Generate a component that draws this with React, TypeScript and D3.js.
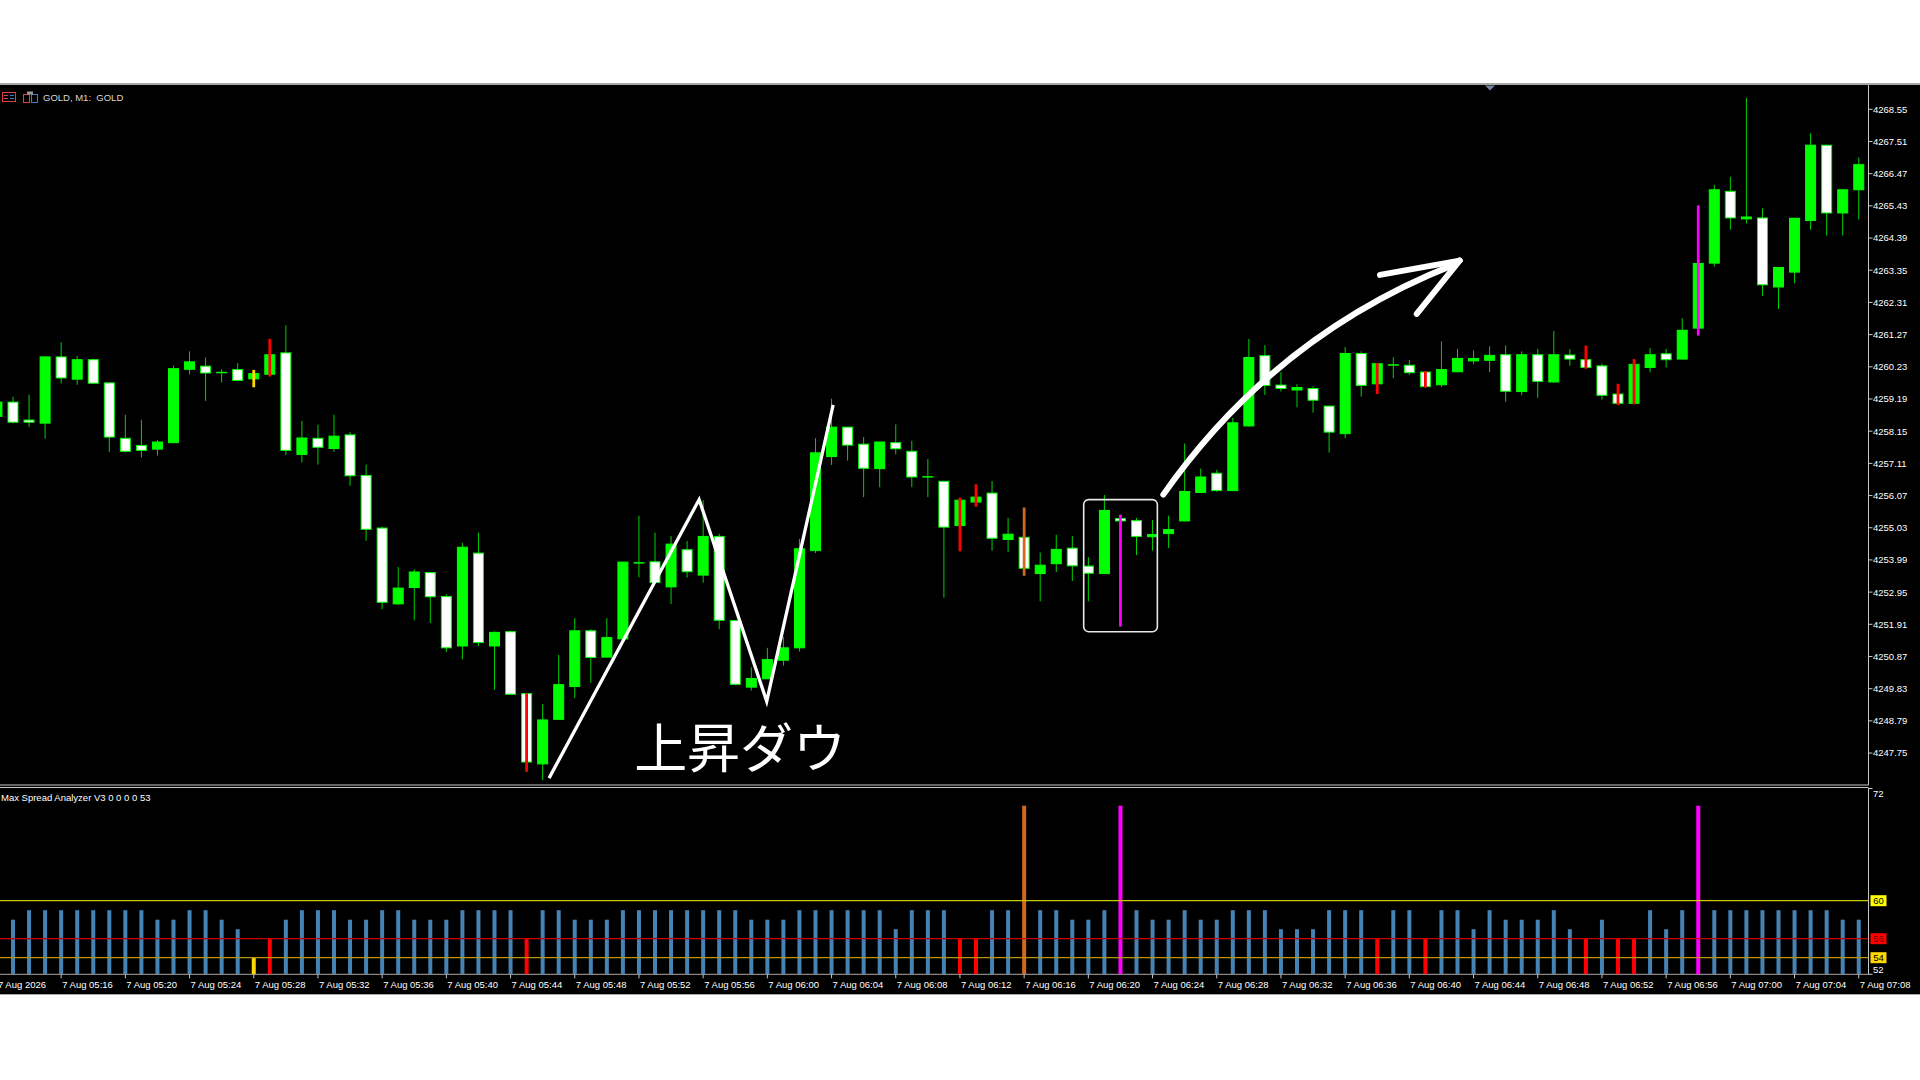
import React from "react";
import * as d3 from "d3";

// ---------- texts ----------
const SYMBOL_TITLE = "GOLD, M1:  GOLD";
const INDICATOR_TITLE = "Max Spread Analyzer V3 0 0 0 0 53";
const ANNOTATION_TEXT = "上昇ダウ";

// ---------- categories (1-minute bars) ----------
const START = new Date(2026, 7, 7, 5, 12);
const END = new Date(2026, 7, 7, 7, 8);
const TIMES: string[] = d3.timeMinute
  .range(START, d3.timeMinute.offset(END, 1))
  .map(d3.timeFormat("%H:%M"));

const X_TICK_TIMES = ["05:12","05:16","05:20","05:24","05:28","05:32","05:36","05:40","05:44","05:48","05:52","05:56","06:00","06:04","06:08","06:12","06:16","06:20","06:24","06:28","06:32","06:36","06:40","06:44","06:48","06:52","06:56","07:00","07:04","07:08"];
const X_TICK_LABELS = ["7 Aug 2026","7 Aug 05:16","7 Aug 05:20","7 Aug 05:24","7 Aug 05:28","7 Aug 05:32","7 Aug 05:36","7 Aug 05:40","7 Aug 05:44","7 Aug 05:48","7 Aug 05:52","7 Aug 05:56","7 Aug 06:00","7 Aug 06:04","7 Aug 06:08","7 Aug 06:12","7 Aug 06:16","7 Aug 06:20","7 Aug 06:24","7 Aug 06:28","7 Aug 06:32","7 Aug 06:36","7 Aug 06:40","7 Aug 06:44","7 Aug 06:48","7 Aug 06:52","7 Aug 06:56","7 Aug 07:00","7 Aug 07:04","7 Aug 07:08"];

const PRICE_TICKS = [4268.55,4267.51,4266.47,4265.43,4264.39,4263.35,4262.31,4261.27,4260.23,4259.19,4258.15,4257.11,4256.07,4255.03,4253.99,4252.95,4251.91,4250.87,4249.83,4248.79,4247.75];

// ---------- OHLC ----------
const OPEN = [4258.63,4259.09,4258.51,4258.41,4260.55,4259.83,4260.46,4259.71,4257.92,4257.69,
4257.57,4257.78,4260.15,4260.25,4260.03,4260.14,4259.84,4259.99,4260.68,4257.40,
4257.92,4257.59,4258.03,4256.72,4255.02,4252.57,4253.10,4253.58,4252.81,4251.21,
4254.21,4251.21,4251.67,4249.67,4247.40,4248.84,4249.90,4251.70,4250.85,4251.44,
4253.89,4253.93,4253.12,4254.32,4253.50,4254.75,4252.03,4249.88,4250.15,4250.75,
4251.15,4254.29,4257.33,4258.28,4257.73,4256.94,4257.78,4257.50,4256.67,4256.53,
4255.10,4255.86,4256.15,4254.65,4254.72,4253.55,4253.87,4254.37,4253.79,4253.55,
4255.33,4255.26,4254.74,4254.84,4255.25,4256.17,4256.79,4256.23,4258.32,4260.59,
4259.64,4259.48,4259.53,4258.96,4258.07,4260.66,4259.68,4260.27,4260.28,4260.06,
4259.65,4260.07,4260.42,4260.44,4260.62,4259.43,4260.62,4259.74,4260.61,4260.46,
4260.26,4259.35,4259.05,4260.21,4260.65,4260.48,4261.48,4263.58,4265.90,4265.01,
4265.04,4262.81,4263.29,4264.96,4267.39,4265.20,4265.95];
const HIGH = [4259.25,4259.26,4259.33,4260.57,4261.02,4260.58,4260.50,4259.72,4258.68,4258.52,
4257.87,4260.27,4260.73,4260.53,4260.15,4260.35,4260.13,4261.13,4261.57,4258.48,
4258.36,4258.68,4258.12,4257.07,4255.07,4253.76,4253.69,4253.60,4252.88,4254.54,
4254.87,4251.68,4251.70,4249.68,4249.33,4250.92,4252.11,4251.75,4252.11,4253.93,
4255.42,4254.87,4254.76,4254.60,4255.92,4254.84,4252.03,4250.52,4251.15,4251.50,
4254.67,4257.92,4259.20,4258.29,4257.96,4257.80,4258.37,4257.84,4257.25,4256.53,
4256.00,4256.43,4256.54,4255.35,4255.68,4254.23,4254.80,4254.76,4254.08,4256.09,
4255.45,4255.35,4255.28,4255.42,4257.75,4256.94,4256.90,4258.58,4261.13,4260.93,
4260.06,4259.67,4259.60,4258.97,4260.87,4260.73,4260.35,4260.54,4260.45,4260.09,
4261.05,4260.81,4260.76,4260.89,4260.92,4260.73,4260.81,4261.39,4260.80,4260.91,
4260.33,4259.68,4260.48,4260.83,4260.81,4261.80,4265.44,4266.11,4266.37,4268.92,
4265.35,4263.45,4265.04,4267.78,4267.40,4265.96,4266.99];
const LOW = [4258.50,4258.40,4258.29,4257.91,4259.69,4259.65,4259.68,4257.48,4257.47,4257.30,
4257.36,4257.76,4259.98,4259.13,4259.72,4259.76,4259.57,4259.92,4257.38,4257.14,
4257.07,4257.48,4256.39,4254.61,4252.40,4252.55,4252.04,4251.95,4251.01,4250.78,
4251.21,4249.80,4249.63,4247.15,4246.88,4248.82,4249.53,4250.02,4250.84,4251.42,
4253.43,4253.25,4252.57,4253.42,4253.25,4251.75,4249.94,4249.77,4250.14,4250.57,
4251.03,4254.21,4257.06,4257.20,4256.02,4256.34,4257.40,4256.34,4256.02,4252.77,
4254.27,4255.71,4254.29,4254.24,4253.48,4252.65,4253.60,4253.31,4252.65,4253.54,
4251.84,4254.15,4254.29,4254.38,4255.24,4256.16,4256.19,4256.22,4258.30,4259.32,
4259.43,4258.92,4258.75,4257.46,4257.92,4259.27,4259.35,4259.86,4259.97,4259.56,
4259.58,4260.05,4260.31,4260.06,4259.10,4259.31,4259.22,4259.71,4260.26,4260.17,
4259.17,4258.99,4259.02,4260.05,4260.21,4260.47,4261.24,4263.47,4264.66,4264.86,
4262.52,4262.10,4262.93,4264.66,4264.47,4264.47,4264.99];
const CLOSE = [4259.09,4258.44,4258.44,4260.55,4259.87,4260.46,4259.70,4257.96,4257.50,4257.53,
4257.80,4260.17,4260.39,4260.03,4260.06,4259.79,4260.01,4260.62,4257.53,4257.93,
4257.63,4257.99,4256.71,4254.98,4252.62,4253.08,4253.60,4252.80,4251.15,4254.40,
4251.32,4251.65,4249.65,4247.46,4248.82,4249.96,4251.70,4250.84,4251.48,4253.92,
4253.90,4253.26,4254.50,4253.61,4254.75,4252.04,4249.97,4250.16,4250.77,4251.15,
4254.35,4257.45,4258.28,4257.70,4256.95,4257.80,4257.58,4256.67,4256.68,4255.05,
4255.92,4256.02,4254.69,4254.82,4253.72,4253.82,4254.33,4253.80,4253.56,4255.59,
4255.25,4254.75,4254.81,4254.97,4256.20,4256.67,4256.23,4258.42,4260.53,4259.63,
4259.53,4259.56,4259.15,4258.12,4260.66,4259.63,4260.33,4260.31,4260.04,4259.59,
4260.14,4260.50,4260.50,4260.60,4259.44,4260.62,4259.76,4260.62,4260.48,4260.21,
4259.31,4259.05,4260.31,4260.62,4260.46,4261.41,4263.57,4265.95,4265.04,4265.07,
4262.88,4263.44,4265.03,4267.39,4265.20,4265.95,4266.76];

// ---------- spread indicator ----------
const SPREAD = [58,58,59,59,59,59,59,59,59,59,
58,58,59,59,58,57,54,56,58,59,
59,59,58,58,59,59,58,58,58,59,
59,59,59,56,59,59,58,58,58,59,
59,59,59,59,59,59,59,58,58,58,
59,59,59,59,59,59,57,59,59,59,
56,56,59,59,70,59,59,58,58,59,
70,59,58,58,59,58,58,59,59,59,
57,57,57,59,59,59,56,59,59,56,
59,59,57,59,58,58,58,59,57,56,
58,56,56,59,57,59,70,59,59,59,
59,59,59,59,59,58,58];
const ORANGE_SPIKE_TIMES = ["06:16"];
const SPREAD_LEVELS = [60, 56, 54];
const SPREAD_AXIS_LABELS = [72, 52];

// ---------- hand-drawn annotations (bar index, price) ----------
const ZIGZAG_IDX = [34.4, 43.75, 47.96, 52.1];
const ZIGZAG_PRICE = [4246.94, 4255.94, 4249.42, 4259.0];
const BOX_IDX = [67.71, 72.3];
const BOX_PRICE = [4255.94, 4251.67];
// quadratic arc: start, control, end
const ARROW_IDX = [72.67, 79.63, 90.83];
const ARROW_PRICE = [4256.1, 4261.26, 4263.54];
const ARROW_TIP = [91.13, 4263.66];
const ARROW_BARB_IDX = [86.17, 88.46];
const ARROW_BARB_PRICE = [4263.2, 4261.94];
const TEXT_IDX = 39.7;
const TEXT_PRICE = 4247.27;

// ---------- styles ----------
const FONT = "'Liberation Sans', Arial, sans-serif";
const BULL = "#00ff00";
const WICK = "#00d200";
const BLUE = "#4682b4";
const LEVEL_COLORS: Record<number, string> = { 60: "#c8c800", 56: "#c80000", 54: "#b8960b" };
const LEVEL_BOX: Record<number, string> = { 60: "#ffff00", 56: "#ff0000", 54: "#ffd700" };
const LEVEL_TEXT: Record<number, string> = { 60: "#000000", 56: "#7a0000", 54: "#000000" };

function spreadColor(v: number, t: string): string {
  if (v >= 60) return ORANGE_SPIKE_TIMES.includes(t) ? "#d2691e" : "#ff00ff";
  if (v <= 54) return "#ffd700";
  if (v <= 56) return "#ff0000";
  return BLUE;
}

export default function App() {
  const W = 1920;
  const H = 1080;
  const axisX = 1868.5;
  const mainTop = 85;
  const mainBottom = 784;
  const paneTop = 788;
  const paneBottom = 974.3;

  const x = d3.scaleLinear().domain([0, TIMES.length - 1]).range([-3.05, 1858.75]);
  const y = d3.scaleLinear().domain([4268.55, 4247.75]).range([109.3, 753.06]);
  const ys = d3.scaleLinear().domain([52, 72]).range([976.7, 786.7]);
  const idxOf = (t: string) => TIMES.indexOf(t);

  const candles = TIMES.map((t, i) => {
    const o = OPEN[i], h = HIGH[i], l = LOW[i], c = CLOSE[i];
    return { t, i, o, h, l, c, bull: c >= o, sc: spreadColor(SPREAD[i], t) };
  });

  const zig = d3.line<number>()
    .x((d, k) => x(ZIGZAG_IDX[k]))
    .y((d, k) => y(ZIGZAG_PRICE[k]))(ZIGZAG_IDX);

  const ap = d3.path();
  ap.moveTo(x(ARROW_IDX[0]), y(ARROW_PRICE[0]));
  ap.quadraticCurveTo(x(ARROW_IDX[1]), y(ARROW_PRICE[1]), x(ARROW_IDX[2]), y(ARROW_PRICE[2]));
  ap.lineTo(x(ARROW_TIP[0]), y(ARROW_TIP[1]));
  const tipX = x(ARROW_TIP[0]);
  const tipY = y(ARROW_TIP[1]);

  const labelStyle = { fontFamily: FONT, fontSize: 9.5, fill: "#ffffff" } as const;

  return (
    <svg
      width={W}
      height={H}
      style={{ position: "fixed", left: 0, top: 0, display: "block" }}
      xmlns="http://www.w3.org/2000/svg"
    >
      <defs>
        <clipPath id="mainClip">
          <rect x={0} y={mainTop} width={axisX} height={mainBottom - mainTop} />
        </clipPath>
        <clipPath id="paneClip">
          <rect x={0} y={paneTop} width={axisX} height={paneBottom - paneTop} />
        </clipPath>
      </defs>
      <rect x={0} y={0} width={W} height={H} fill="#ffffff" />
      <rect x={0} y={83} width={W} height={912} fill="#000000" />
      <rect x={0} y={83} width={W} height={2} fill="#a8a8a8" />
      <line x1={0} x2={W} y1={994.5} y2={994.5} stroke="#a8a8a8" strokeWidth={1} />

      {/* header */}
      <g>
        <rect x={2.5} y={92.5} width={13} height={9} fill="none" stroke="#e04040" />
        <line x1={4} x2={8} y1={95.5} y2={95.5} stroke="#e04040" />
        <line x1={4} x2={8} y1={98.5} y2={98.5} stroke="#e04040" />
        <line x1={10} x2={14} y1={95.5} y2={95.5} stroke="#3a78e0" />
        <line x1={10} x2={14} y1={98.5} y2={98.5} stroke="#3a78e0" />
        <rect x={23.5} y={94.5} width={6} height={8} fill="none" stroke="#e04040" />
        <rect x={31.5} y={94.5} width={6} height={8} fill="none" stroke="#3a78e0" />
        <rect x={27} y={91.5} width={6} height={3} fill="#9a9a9a" />
        <text x={43} y={100.5} style={{ ...labelStyle, fill: "#d8d8d8", whiteSpace: "pre" }}>
          {SYMBOL_TITLE}
        </text>
      </g>
      <path d="M1485,85.5 L1495,85.5 L1490,90.5 Z" fill="#7284a0" />

      {/* main candles */}
      <g clipPath="url(#mainClip)">
        {candles.map((d) => (
          <line key={"w" + d.i} x1={x(d.i)} x2={x(d.i)} y1={y(d.h)} y2={y(d.l)} stroke={WICK} strokeWidth={1} />
        ))}
        {candles.map((d) => {
          const top = y(Math.max(d.o, d.c));
          const bot = y(Math.min(d.o, d.c));
          const hgt = bot - top;
          if (hgt < 1.5) {
            return (
              <line key={"b" + d.i} x1={x(d.i) - 5.5} x2={x(d.i) + 5.5} y1={(top + bot) / 2} y2={(top + bot) / 2}
                stroke={BULL} strokeWidth={1.5} />
            );
          }
          return (
            <rect key={"b" + d.i} x={x(d.i) - 5} y={top} width={10} height={hgt}
              fill={d.bull ? BULL : "#ffffff"} stroke={BULL} strokeWidth={1} />
          );
        })}
        {candles.filter((d) => d.sc !== BLUE).map((d) => (
          <line key={"s" + d.i} x1={x(d.i)} x2={x(d.i)} y1={y(d.h)} y2={y(d.l)} stroke={d.sc} strokeWidth={2.8} />
        ))}

        {/* annotations */}
        <path d={zig || ""} fill="none" stroke="#ffffff" strokeWidth={3.3} strokeLinejoin="miter" />
        <rect x={x(BOX_IDX[0])} y={y(BOX_PRICE[0])} width={x(BOX_IDX[1]) - x(BOX_IDX[0])}
          height={y(BOX_PRICE[1]) - y(BOX_PRICE[0])} rx={5} fill="none" stroke="#e8e8e8" strokeWidth={1.6} />
        <path d={ap.toString()} fill="none" stroke="#ffffff" strokeWidth={6} strokeLinecap="round" strokeLinejoin="round" />
        {ARROW_BARB_IDX.map((bi, k) => (
          <line key={"barb" + k} x1={x(bi)} y1={y(ARROW_BARB_PRICE[k])} x2={tipX} y2={tipY}
            stroke="#ffffff" strokeWidth={6} strokeLinecap="round" />
        ))}
        <text x={x(TEXT_IDX)} y={y(TEXT_PRICE)} fill="#ffffff"
          style={{ fontFamily: "'Noto Sans CJK JP', 'Noto Sans CJK SC', sans-serif", fontSize: 53, fontWeight: 400 }}>
          {ANNOTATION_TEXT}
        </text>
      </g>

      {/* separator + axes */}
      <line x1={0} x2={axisX} y1={785} y2={785} stroke="#c8c8c8" strokeWidth={1} />
      <line x1={0} x2={axisX} y1={787.5} y2={787.5} stroke="#c8c8c8" strokeWidth={1} />
      <line x1={axisX} x2={axisX} y1={mainTop} y2={mainBottom + 1} stroke="#c8c8c8" strokeWidth={1} />
      <line x1={axisX} x2={axisX} y1={paneTop} y2={paneBottom} stroke="#c8c8c8" strokeWidth={1} />
      <line x1={0} x2={axisX} y1={paneBottom} y2={paneBottom} stroke="#a8a8a8" strokeWidth={1} />

      {PRICE_TICKS.map((p) => (
        <g key={"pt" + p}>
          <line x1={axisX} x2={axisX + 4} y1={y(p)} y2={y(p)} stroke="#c8c8c8" />
          <text x={1873} y={y(p) + 3.4} style={labelStyle}>{p.toFixed(2)}</text>
        </g>
      ))}

      {/* indicator pane */}
      <text x={1} y={800.5} style={labelStyle}>{INDICATOR_TITLE}</text>
      <g clipPath="url(#paneClip)">
        {candles.map((d) => (
          <rect key={"sp" + d.i} x={x(d.i) - 2} y={ys(SPREAD[d.i])} width={4}
            height={paneBottom - ys(SPREAD[d.i])} fill={d.sc} />
        ))}
        {SPREAD_LEVELS.map((lv) => (
          <line key={"lv" + lv} x1={0} x2={axisX} y1={ys(lv)} y2={ys(lv)} stroke={LEVEL_COLORS[lv]} strokeWidth={1.2} />
        ))}
      </g>
      {SPREAD_AXIS_LABELS.map((v, k) => (
        <g key={"sa" + v}>
          <line x1={axisX} x2={axisX + 4} y1={k === 0 ? paneTop + 0.5 : paneBottom} y2={k === 0 ? paneTop + 0.5 : paneBottom} stroke="#c8c8c8" />
          <text x={1873} y={k === 0 ? 796.5 : 972.5} style={labelStyle}>{v}</text>
        </g>
      ))}
      {SPREAD_LEVELS.map((lv) => (
        <g key={"lb" + lv}>
          <rect x={1870.5} y={ys(lv) - 5.5} width={16} height={11} fill={LEVEL_BOX[lv]} />
          <text x={1878.5} y={ys(lv) + 3.4} textAnchor="middle"
            style={{ fontFamily: FONT, fontSize: 9.5, fill: LEVEL_TEXT[lv] }}>{lv}</text>
        </g>
      ))}

      {/* time axis */}
      {X_TICK_TIMES.map((t, k) => {
        const cx = x(idxOf(t));
        return (
          <g key={"xt" + t}>
            <line x1={cx} x2={cx} y1={paneBottom} y2={paneBottom + 4} stroke="#c8c8c8" />
            <text x={cx + 1} y={988} style={labelStyle}>{X_TICK_LABELS[k]}</text>
          </g>
        );
      })}
    </svg>
  );
}
